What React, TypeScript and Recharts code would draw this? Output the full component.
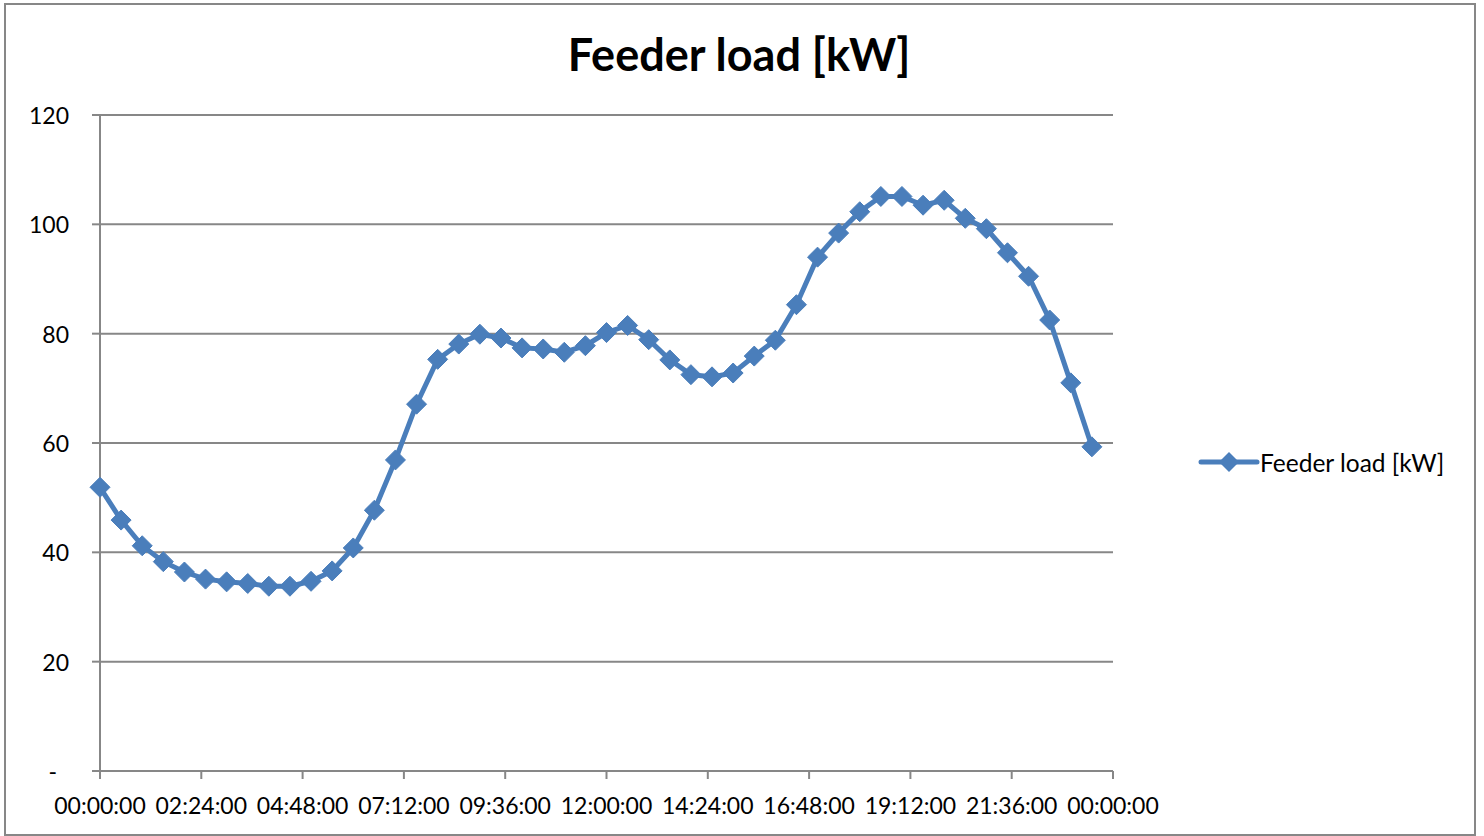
import React from "react";
import { LineChart, Line, XAxis, YAxis, CartesianGrid, Legend } from "recharts";

const hours = [
  0, 0.5, 1, 1.5, 2, 2.5, 3, 3.5, 4, 4.5, 5, 5.5, 6, 6.5, 7, 7.5, 8, 8.5, 9, 9.5, 10, 10.5, 11, 11.5,
  12, 12.5, 13, 13.5, 14, 14.5, 15, 15.5, 16, 16.5, 17, 17.5, 18, 18.5, 19, 19.5, 20, 20.5, 21, 21.5,
  22, 22.5, 23, 23.5,
];

const load = [
  51.9, 45.9, 41.2, 38.3, 36.4, 35.1, 34.6, 34.3, 33.8, 33.8, 34.7, 36.6, 40.8, 47.7, 56.9, 67.1,
  75.3, 78.1, 79.9, 79.2, 77.4, 77.2, 76.6, 77.8, 80.2, 81.5, 78.9, 75.2, 72.5, 72.1, 72.8, 75.9,
  78.8, 85.3, 94.0, 98.4, 102.3, 105.1, 105.1, 103.5, 104.4, 101.1, 99.2, 94.8, 90.5, 82.5, 71.0, 59.3,
];

const xTicks = [0, 2.4, 4.8, 7.2, 9.6, 12, 14.4, 16.8, 19.2, 21.6, 24];
const yTicks = [0, 20, 40, 60, 80, 100, 120];

const seriesName = "Feeder load [kW]";
const title = "Feeder load [kW]";

const data = hours.map((h, i) => ({ h, load: load[i] }));

const COLOR = "#4A7EBB";
const GRID = "#878787";
const FONT = "Lato, 'Open Sans', sans-serif";

const fmtTime = (v: number) => {
  const totalMin = Math.round(v * 60) % (24 * 60);
  const hh = Math.floor(totalMin / 60);
  const mm = totalMin % 60;
  const p = (n: number) => String(n).padStart(2, "0");
  return `${p(hh)}:${p(mm)}:00`;
};

const Diamond = (props: any) => {
  const { cx, cy } = props;
  if (cx == null || cy == null) return null;
  const r = 10;
  return (
    <path
      d={`M${cx},${cy - r} L${cx + r},${cy} L${cx},${cy + r} L${cx - r},${cy} Z`}
      fill={COLOR}
      stroke={COLOR}
      strokeWidth={1}
    />
  );
};

const YTick = (props: any) => {
  const { x, y, payload } = props;
  const isZero = payload.value === 0;
  return (
    <text
      x={isZero ? x - 12 : x}
      y={y}
      textAnchor="end"
      dominantBaseline="central"
      fontFamily={FONT}
      fontSize={23}
      fill="#000"
    >
      {isZero ? "-" : payload.value}
    </text>
  );
};

const XTick = (props: any) => {
  const { x, y, payload } = props;
  return (
    <text
      x={x}
      y={y + 26}
      textAnchor="middle"
      dominantBaseline="central"
      fontFamily={FONT}
      fontSize={23}
      fill="#000"
    >
      {fmtTime(payload.value)}
    </text>
  );
};

const LegendContent = () => (
  <svg width={270} height={40} style={{ overflow: "visible" }}>
    <line x1={1} y1={20} x2={57} y2={20} stroke={COLOR} strokeWidth={5} strokeLinecap="round" />
    <path d="M29,10 L39,20 L29,30 L19,20 Z" fill={COLOR} />
    <text x={60} y={20} dominantBaseline="central" fontFamily={FONT} fontSize={24.5} fill="#000">
      {seriesName}
    </text>
  </svg>
);

export default function App() {
  return (
    <div
      style={{
        position: "absolute",
        left: 0,
        top: 0,
        width: 1484,
        height: 836,
        background: "#fff",
        overflow: "hidden",
      }}
    >
      <div
        style={{
          position: "absolute",
          left: 4,
          top: 3,
          width: 1468,
          height: 829,
          border: `2px solid ${GRID}`,
        }}
      />
      <div
        style={{
          position: "absolute",
          left: 0,
          top: 28,
          width: 1478,
          textAlign: "center",
          fontFamily: FONT,
          fontWeight: 700,
          fontSize: 45,
          lineHeight: "52px",
          color: "#000",
        }}
      >
        {title}
      </div>
      <div style={{ position: "absolute", left: 0, top: 0 }}>
        <LineChart
          width={1484}
          height={836}
          data={data}
          margin={{ top: 115, right: 371, bottom: 0, left: 0 }}
        >
          <CartesianGrid horizontal vertical={false} stroke={GRID} strokeWidth={2} />
          <XAxis
            dataKey="h"
            type="number"
            domain={[0, 24]}
            ticks={xTicks}
            interval={0}
            height={65}
            tickSize={8}
            tickMargin={0}
            axisLine={{ stroke: GRID, strokeWidth: 2 }}
            tickLine={{ stroke: GRID, strokeWidth: 2 }}
            tick={<XTick />}
          />
          <YAxis
            type="number"
            domain={[0, 120]}
            ticks={yTicks}
            interval={0}
            width={100}
            tickSize={8}
            tickMargin={23}
            axisLine={{ stroke: GRID, strokeWidth: 2 }}
            tickLine={{ stroke: GRID, strokeWidth: 2 }}
            tick={<YTick />}
          />
          <Legend
            layout="horizontal"
            verticalAlign="middle"
            align="center"
            content={<LegendContent />}
            wrapperStyle={{ left: 1200, top: 442, width: 270, height: 40 }}
          />
          <Line
            type="linear"
            dataKey="load"
            name={seriesName}
            stroke={COLOR}
            strokeWidth={5}
            dot={<Diamond />}
            activeDot={false}
            isAnimationActive={false}
          />
        </LineChart>
      </div>
    </div>
  );
}
